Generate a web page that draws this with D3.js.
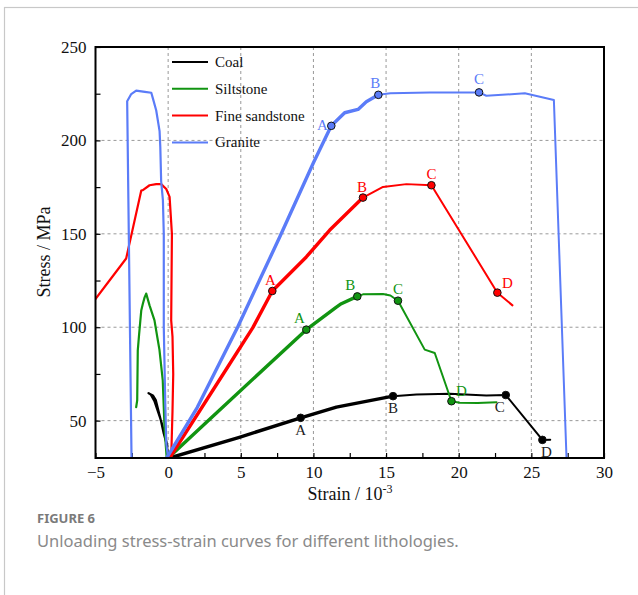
<!DOCTYPE html>
<html lang="en">
<head>
  <meta charset="UTF-8">
  <title>Unloading stress-strain curves</title>
  <style>
    body { margin: 0; background: #fff; }
    svg text { font-family: "Liberation Serif", "DejaVu Serif", serif; }
    svg text.caption { font-family: "Noto Sans", "Open Sans", sans-serif; }
  </style>
</head>
<body>
  <svg id="chart" width="638" height="595"></svg>

  <script src="https://d3js.org/d3.v7.min.js"></script>
  <script>
    // [strain (10^-3), stress (MPa)]
    const coalLoad = [[0.1,30],[4.9,41.1],[9.12,51.5],[11.58,57.2],[15.48,63.1]];
    const coalPost = [[15.48,63.1],[17.09,64],[19.38,64.4],[21.9,63.5],[23.24,63.7],[25.76,39.7],[26.3,39.8]];
    const coalLat = [[0,30],[-0.1,38],[-0.45,49],[-0.95,60.5],[-1.2,64],[-1.35,64.7],[-1.05,63.5],[-0.85,61],[-0.5,50],[-0.3,43],[-0.05,36]];
    const coalPts = [[9.12,51.5],[15.48,63.1],[23.24,63.7],[25.76,39.7]];

    const siltLoad = [[0,30],[2.75,50],[9.51,98.7],[11.58,110.8],[11.92,112.6],[13.02,116.5]];
    const siltPost = [[13.02,116.5],[13.41,117.6],[14.79,117.8],[15.3,117],[15.82,114.2],[17.66,88],[18.35,86.2],[19.5,60.4],[20.07,59.6],[21.3,59.5],[22.6,59.9]];
    const siltLat = [[-0.1,30],[-0.25,46.5],[-0.37,71.5],[-0.6,88],[-0.71,93],[-0.94,103.7],[-1.28,111.7],[-1.51,118],[-1.62,116],[-1.74,112.6],[-1.85,109],[-2.0,96],[-2.09,87.6],[-2.13,60.8],[-2.2,57.2]];
    const siltPts = [[9.51,98.7],[13.02,116.5],[15.82,114.2],[19.5,60.4]];

    const sandLoad = [[0.1,30],[4.1,78.7],[5.83,99.8],[7.17,119.4],[9.51,137.6],[11.11,151.9],[13.41,169.4]];
    const sandPost = [[13.41,169.4],[14.79,175.1],[16.4,176.6],[18.12,176.0],[22.66,118.5],[23.7,111.7]];
    const sandLat = [[0.21,30],[0.3,55],[0.35,75],[0.3,95],[0.21,103.7],[0.26,150],[0.1,169.8],[-0.13,174],[-0.48,176.6],[-0.82,176.6],[-1.28,176],[-1.74,173.4],[-1.85,173.2],[-2.89,136.8],[-5.07,114.4]];
    const sandPts = [[7.17,119.4],[13.41,169.4],[18.12,176.0],[22.66,118.5]];

    const graniteLoad = [[-0.1,30],[2,57],[4.78,100],[7.68,148.3],[10,188],[11.23,207.8],[12.15,214.8],[13.07,216.6],[13.64,220.7],[14.47,224.4]];
    const granitePost = [[14.47,224.4],[15.3,225.2],[18,225.6],[21.4,225.7],[21.9,223.9],[24.55,225.2],[26.55,221.6],[27.42,30]];
    const graniteLat = [[0,30],[-0.13,38],[-0.2,60],[-0.3,100],[-0.3,150],[-0.36,168],[-0.48,178],[-0.54,196.6],[-0.59,205],[-0.82,216],[-1.05,222.5],[-1.16,225.5],[-1.6,226],[-2.2,226.6],[-2.54,224.8],[-2.82,221],[-2.52,30]];
    const granitePts = [[11.23,207.8],[14.47,224.4],[21.4,225.7]];

    const pointLetters = ["A", "B", "C", "D"];
    const seriesNames = ["Coal", "Siltstone", "Fine sandstone", "Granite"];
    const xTicks = [-5, 0, 5, 10, 15, 20, 25, 30];
    const yTicks = [50, 100, 150, 200, 250];

    const colors = ["#000000", "#119411", "#ff0000", "#5b7cf8"];
    const serif = "'Liberation Serif', 'DejaVu Serif', serif";

    const svg = d3.select("#chart");
    const mLeft = 95.5, mRight = 604, mTop = 47, mBottom = 458;

    // outer frame of the figure
    svg.append("rect").attr("x", 4.5).attr("y", 7.5).attr("width", 700).attr("height", 700)
      .attr("fill", "none").attr("stroke", "#c8c8c8").attr("stroke-width", 1.2);

    const x = d3.scaleLinear().domain([-5, 30]).range([mLeft, mRight]);
    const y = d3.scaleLinear().domain([30, 250]).range([mBottom, mTop]);

    // grid
    const grid = svg.append("g").attr("stroke", "#999").attr("stroke-width", 1).attr("stroke-dasharray", "3,3");
    grid.selectAll(".gx").data(xTicks.slice(1, -1)).join("line")
      .attr("x1", d => x(d)).attr("x2", d => x(d)).attr("y1", mTop).attr("y2", mBottom);
    grid.selectAll(".gy").data(yTicks.slice(0, -1)).join("line")
      .attr("y1", d => y(d)).attr("y2", d => y(d)).attr("x1", mLeft).attr("x2", mRight);

    function styleAxis(g) {
      g.attr("font-family", serif).attr("font-size", 17);
      g.select(".domain").remove();
      g.selectAll(".tick line").attr("stroke", "#000").attr("stroke-width", 1.2);
      g.selectAll(".tick text").attr("fill", "#111").attr("font-family", serif).attr("font-size", 17);
    }

    // axes with inward ticks
    svg.append("g").attr("transform", `translate(0,${mBottom})`)
      .call(d3.axisBottom(x).tickValues(d3.range(-5, 30.1, 2.5)).tickSize(-5).tickPadding(8)
        .tickFormat(d => Number.isInteger(d / 5) ? (d < 0 ? "\u2212" + (-d) : String(d)) : ""))
      .call(styleAxis);
    svg.append("g").attr("transform", `translate(${mLeft},0)`)
      .call(d3.axisLeft(y).tickValues(d3.range(50, 251, 25)).tickSize(-5).tickPadding(9)
        .tickFormat(d => d % 50 === 0 ? String(d) : ""))
      .call(styleAxis);

    // clip for curves
    svg.append("clipPath").attr("id", "plotclip").append("rect")
      .attr("x", mLeft).attr("y", mTop).attr("width", mRight - mLeft).attr("height", mBottom - mTop);
    const plot = svg.append("g").attr("clip-path", "url(#plotclip)");

    const line = d3.line().x(d => x(d[0])).y(d => y(d[1]));

    const curves = [
      { load: coalLoad, post: coalPost, lat: coalLat, pts: coalPts },
      { load: siltLoad, post: siltPost, lat: siltLat, pts: siltPts },
      { load: sandLoad, post: sandPost, lat: sandLat, pts: sandPts },
      { load: graniteLoad, post: granitePost, lat: graniteLat, pts: granitePts }
    ];

    curves.forEach((c, i) => {
      const g = plot.append("g").attr("fill", "none").attr("stroke", colors[i])
        .attr("stroke-linejoin", "round").attr("stroke-linecap", "round");
      g.append("path").attr("d", line(c.lat)).attr("stroke-width", 2.2);
      g.append("path").attr("d", line(c.post)).attr("stroke-width", 2);
      g.append("path").attr("d", line(c.load)).attr("stroke-width", 3.4);
    });

    // label offsets per series / point (A..D)
    const labelOffsets = [
      [[0, 17], [0, 17], [-6, 17], [4, 17]],
      [[-7, -7], [-7, -6], [0, -7], [10, -5]],
      [[-2, -6], [-1, -6], [0, -6], [10, -5]],
      [[-9, 4], [-3, -7], [0, -8]]
    ];

    curves.forEach((c, i) => {
      const g = svg.append("g");
      g.selectAll("circle").data(c.pts).join("circle")
        .attr("cx", d => x(d[0])).attr("cy", d => y(d[1])).attr("r", 3.8)
        .attr("fill", colors[i]).attr("stroke", "#111").attr("stroke-width", 1);
      g.selectAll("text").data(c.pts).join("text")
        .attr("x", (d, j) => x(d[0]) + labelOffsets[i][j][0])
        .attr("y", (d, j) => y(d[1]) + labelOffsets[i][j][1])
        .attr("text-anchor", "middle").attr("font-size", 15).attr("fill", i === 0 ? "#222" : colors[i])
        .text((d, j) => pointLetters[j]);
    });

    // plot frame
    svg.append("rect").attr("x", mLeft).attr("y", mTop).attr("width", mRight - mLeft).attr("height", mBottom - mTop)
      .attr("fill", "none").attr("stroke", "#000").attr("stroke-width", 2);

    // legend
    const legend = svg.append("g").attr("transform", "translate(172,62)");
    seriesNames.forEach((name, i) => {
      legend.append("line").attr("x1", 0).attr("x2", 36).attr("y1", i * 26.8).attr("y2", i * 26.8)
        .attr("stroke", colors[i]).attr("stroke-width", 2);
      legend.append("text").attr("x", 43).attr("y", i * 26.8 + 5).attr("font-size", 15).attr("fill", "#111")
        .text(name);
    });

    // axis titles
    svg.append("text").attr("x", 350).attr("y", 500).attr("text-anchor", "middle")
      .attr("font-size", 18).attr("fill", "#111")
      .html('Strain / 10<tspan dy="-7" font-size="12">-3</tspan>');
    svg.append("text").attr("transform", "translate(50,252) rotate(-90)").attr("text-anchor", "middle")
      .attr("font-size", 18).attr("fill", "#111").text("Stress / MPa");

    // caption
    svg.append("text").attr("class", "caption").attr("x", 37).attr("y", 523)
      .attr("font-size", 13).attr("font-weight", "bold").attr("fill", "#7a7a7a").text("FIGURE 6");
    svg.append("text").attr("class", "caption").attr("x", 37).attr("y", 547)
      .attr("font-size", 16.5).attr("fill", "#8a8a8a")
      .text("Unloading stress-strain curves for different lithologies.");
  </script>
</body>
</html>
